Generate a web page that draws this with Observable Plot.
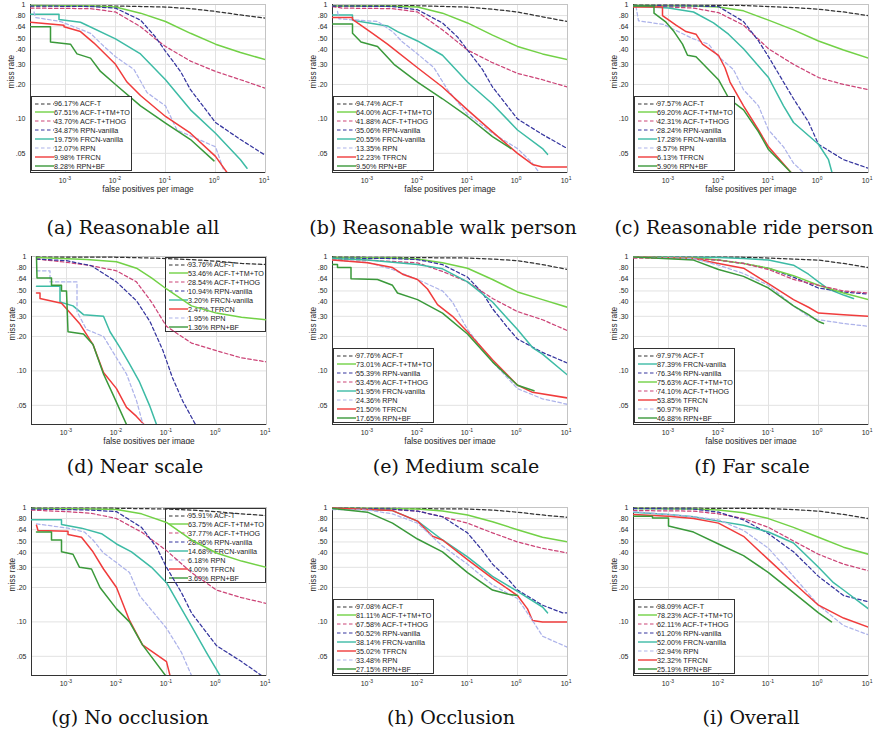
<!DOCTYPE html>
<html><head><meta charset="utf-8">
<script src="https://cdn.jsdelivr.net/npm/d3@7"></script>
<script src="https://cdn.jsdelivr.net/npm/@observablehq/plot@0.6"></script>
<style>
body{margin:0;background:#fff}
#fig{position:relative;width:894px;height:740px;overflow:hidden;background:#fff}
.pan{position:absolute;overflow:hidden}
.pan svg{position:absolute;left:0;top:0}
.cap{position:absolute;font-family:"DejaVu Serif",serif;font-size:19px;white-space:nowrap;transform:translateX(-50%);color:#111;line-height:20px}
.leg{position:absolute;box-sizing:border-box;width:101px;height:75px;background:#fff;border:1px solid #333;font-family:"Liberation Sans",Arial,sans-serif;font-size:7.2px;color:#222}
.leg .row{position:absolute;left:0;height:9px;line-height:9px;white-space:nowrap}
.leg svg{position:absolute;left:2px;top:1.5px}
.leg span{position:absolute;left:22px;top:0}
</style></head>
<body><div id="fig"></div>
<script>
// ---------- data (x = log10 false positives per image, y = miss rate) ----------
const methods = ["ACF-T","ACF-T+TM+TO","ACF-T+THOG","RPN-vanilla","FRCN-vanilla","RPN","TFRCN","RPN+BF"];
const methodColors = ["#333333","#72d146","#cc4477","#35359e","#3dbba5","#adb3ea","#f03c3c","#3a993a"];
const methodDashed = [true,false,true,true,false,true,false,false];

const xTicks = [1e-3,1e-2,1e-1,1,10];
const xTickExps = ["-3","-2","-1","0","1"];
const yTicks = [0.05,0.1,0.2,0.3,0.4,0.5,0.64,0.8,1];
const yTickLabels = [".05",".10",".20",".30",".40",".50",".64",".80","1"];

const reasonableAll = [
 {m:"ACF-T",mr:"96.17%",pts:[[-3.7,.98],[-2,.97],[-1,.95],[-0.5,.92],[0,.87],[0.5,.81],[1,.76]]},
 {m:"ACF-T+TM+TO",mr:"67.51%",pts:[[-3.7,.98],[-2.5,.97],[-2,.95],[-1.5,.84],[-1,.71],[-0.5,.56],[0,.45],[0.5,.38],[1,.33]]},
 {m:"ACF-T+THOG",mr:"43.70%",pts:[[-3.7,.93],[-2.5,.92],[-2,.86],[-1.5,.64],[-1.2,.50],[-1,.43],[-0.5,.32],[0,.26],[0.5,.22],[1,.185]]},
 {m:"RPN-vanilla",mr:"34.87%",pts:[[-3.7,.97],[-2.5,.96],[-2,.93],[-1.5,.73],[-1.2,.52],[-1,.39],[-0.7,.26],[-0.5,.18],[0,.093],[0.5,.066],[1,.048]]},
 {m:"FRCN-vanilla",mr:"19.75%",pts:[[-3.7,.82],[-3.13,.82],[-3.13,.74],[-2.7,.70],[-2,.50],[-1.5,.37],[-1,.22],[-0.5,.12],[0,.075],[0.5,.044],[0.63,.037]]},
 {m:"RPN",mr:"12.07%",pts:[[-3.63,.86],[-3.6,.77],[-3.1,.71],[-2.5,.56],[-2.23,.43],[-2,.35],[-1.63,.27],[-1.37,.17],[-1,.13],[-0.77,.08],[0,.057],[0.17,.035]]},
 {m:"TFRCN",mr:"9.98%",pts:[[-3.7,.70],[-3.03,.66],[-3.03,.64],[-2.7,.58],[-2.43,.46],[-2,.30],[-1.77,.21],[-1.5,.16],[-1,.105],[-0.5,.075],[0,.047],[0.23,.034]]},
 {m:"RPN+BF",mr:"8.28%",pts:[[-3.7,.64],[-3.3,.64],[-3.3,.47],[-2.9,.45],[-2.77,.37],[-2.5,.34],[-2.3,.26],[-2,.20],[-1.5,.13],[-1,.092],[-0.5,.066],[-0.03,.043]]}
];
const walkPerson = [
 {m:"ACF-T",mr:"94.74%",pts:[[-3.7,.98],[-2,.975],[-1,.95],[-0.5,.91],[0,.86],[0.5,.78],[1,.71]]},
 {m:"ACF-T+TM+TO",mr:"64.00%",pts:[[-3.7,.97],[-2.5,.965],[-2,.95],[-1.5,.84],[-1,.69],[-0.5,.54],[0,.43],[0.5,.37],[1,.33]]},
 {m:"ACF-T+THOG",mr:"41.88%",pts:[[-3.7,.96],[-3.5,.93],[-2.5,.92],[-2,.86],[-1.5,.60],[-1,.40],[-0.5,.31],[0,.25],[0.5,.22],[1,.19]]},
 {m:"RPN-vanilla",mr:"35.06%",pts:[[-3.7,.97],[-2.5,.96],[-2,.90],[-1.5,.69],[-1.2,.52],[-1,.40],[-0.7,.27],[-0.5,.19],[0,.10],[0.5,.073],[1,.055]]},
 {m:"FRCN-vanilla",mr:"20.55%",pts:[[-3.7,.81],[-3.3,.81],[-3.3,.73],[-2.6,.65],[-2.4,.58],[-2,.48],[-1.5,.36],[-1,.21],[-0.5,.135],[0,.08],[0.5,.055],[0.6,.049]]},
 {m:"RPN",mr:"13.35%",pts:[[-3.6,.87],[-3.57,.75],[-2.8,.71],[-2.5,.58],[-2.3,.47],[-2,.37],[-1.67,.28],[-1.4,.18],[-1,.11],[-0.5,.075],[0,.055],[0.3,.041],[0.43,.034]]},
 {m:"TFRCN",mr:"12.23%",pts:[[-3.7,.77],[-3.3,.77],[-3.3,.74],[-2.9,.56],[-2.6,.45],[-2,.28],[-1.5,.19],[-1,.12],[-0.5,.077],[0,.05],[0.3,.040],[0.5,.038],[1,.038]]},
 {m:"RPN+BF",mr:"9.50%",pts:[[-3.7,.675],[-3.3,.675],[-3.3,.56],[-3.13,.47],[-2.8,.43],[-2.47,.30],[-2,.21],[-1.5,.15],[-1,.105],[-0.5,.07],[-0.13,.055]]}
];
const ridePerson = [
 {m:"ACF-T",mr:"97.57%",pts:[[-3.7,.99],[-1.5,.98],[-1,.96],[-0.5,.94],[0,.91],[0.5,.86],[1,.80]]},
 {m:"ACF-T+TM+TO",mr:"69.20%",pts:[[-3.7,.98],[-2.5,.97],[-2,.95],[-1.5,.88],[-1,.73],[-0.5,.60],[0,.48],[0.5,.40],[1,.34]]},
 {m:"ACF-T+THOG",mr:"42.31%",pts:[[-3.7,.97],[-3,.95],[-2.5,.93],[-2,.85],[-1.5,.66],[-1,.41],[-0.5,.30],[0,.23],[0.5,.20],[1,.18]]},
 {m:"RPN-vanilla",mr:"28.24%",pts:[[-3.7,.98],[-2.5,.97],[-2,.96],[-1.5,.71],[-1.2,.48],[-1,.35],[-0.7,.21],[-0.5,.15],[-0.2,.094],[0,.06],[0.5,.044],[1,.037]]},
 {m:"FRCN-vanilla",mr:"17.28%",pts:[[-3.7,.97],[-3,.93],[-2.5,.86],[-2.1,.69],[-1.8,.55],[-1.5,.41],[-1,.23],[-0.7,.13],[-0.5,.093],[0,.06],[0.2,.044],[0.27,.034]]},
 {m:"RPN",mr:"8.57%",pts:[[-3.65,.96],[-3.6,.72],[-3.1,.67],[-2.5,.50],[-2.2,.45],[-2,.35],[-1.7,.27],[-1.5,.18],[-1.2,.13],[-1,.08],[-0.7,.057],[-0.5,.041],[-0.3,.034]]},
 {m:"TFRCN",mr:"6.13%",pts:[[-3.7,.95],[-3.12,.95],[-3.12,.80],[-2.85,.66],[-2.65,.58],[-2.45,.55],[-2.32,.45],[-2,.36],[-1.87,.28],[-1.77,.21],[-1.5,.13],[-1.2,.08],[-1,.057],[-0.55,.034]]},
 {m:"RPN+BF",mr:"5.90%",pts:[[-3.7,.97],[-3.29,.97],[-3.29,.84],[-3.05,.70],[-2.89,.58],[-2.72,.45],[-2.62,.36],[-2.45,.35],[-2,.22],[-1.79,.15],[-1.5,.12],[-1.2,.077],[-1,.054],[-0.55,.034]]}
];
const nearScale = [
 {m:"ACF-T",mr:"93.76%",pts:[[-3.6,.99],[-2,.985],[-1.5,.975],[-1,.96],[-0.5,.94],[0,.91],[0.5,.87],[1,.85]]},
 {m:"ACF-T+TM+TO",mr:"53.46%",pts:[[-3.6,.98],[-2.6,.94],[-2,.90],[-1.6,.79],[-1.3,.65],[-1,.52],[-0.5,.37],[0,.32],[0.5,.295],[1,.28]]},
 {m:"ACF-T+THOG",mr:"28.54%",pts:[[-3.6,.95],[-3,.89],[-2.5,.83],[-2,.75],[-1.6,.60],[-1.3,.40],[-1,.245],[-0.5,.175],[0,.15],[0.5,.13],[1,.12]]},
 {m:"RPN-vanilla",mr:"10.94%",pts:[[-3.6,.95],[-3,.92],[-2.5,.83],[-2,.60],[-1.6,.41],[-1.33,.27],[-1.07,.15],[-0.88,.087],[-0.68,.055],[-0.42,.034]]},
 {m:"FRCN-vanilla",mr:"3.20%",pts:[[-3.6,.55],[-3.13,.55],[-3.13,.40],[-2.87,.37],[-2.66,.31],[-2.26,.30],[-2.13,.22],[-1.93,.16],[-1.74,.115],[-1.54,.08],[-1.34,.05],[-1.2,.034]]},
 {m:"TFRCN",mr:"2.47%",pts:[[-3.6,.48],[-3.53,.48],[-3.53,.43],[-3.1,.39],[-3,.35],[-2.74,.26],[-2.47,.17],[-2.26,.097],[-2,.07],[-1.8,.048],[-1.6,.04],[-1.45,.034]]},
 {m:"RPN",mr:"1.95%",pts:[[-3.6,.75],[-3.33,.75],[-3.33,.60],[-2.79,.60],[-2.79,.33],[-2.6,.23],[-2.26,.20],[-2,.13],[-1.8,.094],[-1.6,.055],[-1.47,.034]]},
 {m:"RPN+BF",mr:"1.36%",pts:[[-3.6,.98],[-3.59,.65],[-3.3,.65],[-3.3,.56],[-3.1,.56],[-3.1,.50],[-3.0,.50],[-2.97,.22],[-2.66,.21],[-2.47,.17],[-2.26,.094],[-2.07,.062],[-1.8,.034]]}
];
const mediumScale = [
 {m:"ACF-T",mr:"97.76%",pts:[[-3.7,.99],[-1,.97],[-0.5,.95],[0,.92],[0.5,.85],[1,.77]]},
 {m:"ACF-T+TM+TO",mr:"73.01%",pts:[[-3.7,.98],[-2.5,.97],[-2,.95],[-1.5,.88],[-1,.79],[-0.5,.63],[0,.49],[0.5,.42],[1,.36]]},
 {m:"RPN-vanilla",mr:"55.39%",pts:[[-3.7,.97],[-2.5,.96],[-2,.94],[-1.5,.85],[-1,.66],[-0.7,.48],[-0.5,.35],[-0.2,.24],[0,.19],[0.5,.145],[1,.117]]},
 {m:"ACF-T+THOG",mr:"53.45%",pts:[[-3.7,.95],[-3,.93],[-2,.88],[-1.5,.74],[-1,.60],[-0.5,.43],[0,.33],[0.5,.28],[1,.225]]},
 {m:"FRCN-vanilla",mr:"51.95%",pts:[[-3.7,.96],[-3,.93],[-2,.85],[-1.5,.78],[-1,.60],[-0.5,.40],[0,.23],[0.3,.16],[0.5,.14],[1,.092]]},
 {m:"RPN",mr:"24.36%",pts:[[-3.7,.93],[-3,.89],[-2.5,.77],[-2,.63],[-1.5,.50],[-1.3,.40],[-1,.23],[-0.5,.12],[0,.07],[0.5,.057],[1,.051]]},
 {m:"TFRCN",mr:"21.50%",pts:[[-3.7,.93],[-3,.88],[-2.5,.80],[-2.3,.70],[-2,.63],[-1.8,.52],[-1.6,.38],[-1.3,.30],[-1,.22],[-0.5,.125],[0,.075],[0.3,.065],[1,.058]]},
 {m:"RPN+BF",mr:"17.65%",pts:[[-3.7,.85],[-3.6,.85],[-3.6,.80],[-3.33,.80],[-3.33,.64],[-2.8,.63],[-2.5,.56],[-2.4,.48],[-2,.42],[-1.5,.32],[-1,.21],[-0.5,.12],[0,.075],[0.33,.067]]}
];
const farScale = [
 {m:"ACF-T",mr:"97.97%",pts:[[-3.7,.99],[-1.5,.985],[-1,.97],[-0.5,.95],[0,.93],[0.5,.87],[1,.80]]},
 {m:"FRCN-vanilla",mr:"87.39%",pts:[[-3.7,.99],[-2,.98],[-1.5,.96],[-1,.93],[-0.5,.84],[-0.2,.70],[0,.60],[0.2,.52],[0.5,.46],[0.7,.43]]},
 {m:"RPN-vanilla",mr:"76.34%",pts:[[-3.7,.99],[-2.5,.97],[-2,.93],[-1.5,.87],[-1,.79],[-0.5,.66],[0,.53],[0.5,.49],[1,.47]]},
 {m:"ACF-T+TM+TO",mr:"75.63%",pts:[[-3.7,.99],[-2.5,.97],[-2,.93],[-1.5,.87],[-1,.79],[-0.5,.68],[0,.56],[0.5,.48],[1,.42]]},
 {m:"ACF-T+THOG",mr:"74.10%",pts:[[-3.7,.97],[-2.5,.96],[-2,.93],[-1.5,.87],[-1,.77],[-0.5,.63],[0,.56],[0.5,.50],[1,.48]]},
 {m:"TFRCN",mr:"53.85%",pts:[[-3.7,.99],[-2.5,.96],[-2,.87],[-1.5,.79],[-1,.58],[-0.5,.42],[-0.2,.36],[0,.32],[0.5,.31],[1,.30]]},
 {m:"RPN",mr:"50.97%",pts:[[-3.7,.99],[-2.5,.96],[-2,.84],[-1.5,.71],[-1,.56],[-0.5,.37],[-0.2,.30],[0,.28],[0.5,.26],[1,.245]]},
 {m:"RPN+BF",mr:"46.88%",pts:[[-3.7,.99],[-2.5,.93],[-2,.77],[-1.5,.67],[-1,.53],[-0.5,.37],[-0.2,.31],[0,.27],[0.1,.26]]}
];
const noOcclusion = [
 {m:"ACF-T",mr:"95.91%",pts:[[-3.7,.99],[-2,.985],[-1,.97],[-0.5,.95],[0,.92],[0.5,.88],[1,.85]]},
 {m:"ACF-T+TM+TO",mr:"63.75%",pts:[[-3.7,.98],[-2.5,.97],[-2,.96],[-1.5,.88],[-1,.74],[-0.5,.52],[0,.40],[0.5,.34],[1,.30]]},
 {m:"ACF-T+THOG",mr:"37.77%",pts:[[-3.7,.95],[-3,.92],[-2.5,.89],[-2,.80],[-1.5,.61],[-1,.42],[-0.5,.27],[0,.19],[0.5,.163],[1,.145]]},
 {m:"RPN-vanilla",mr:"28.96%",pts:[[-3.7,.97],[-2.5,.95],[-2,.92],[-1.5,.67],[-1.2,.45],[-1,.30],[-0.7,.18],[-0.5,.12],[0,.062],[0.5,.045],[0.9,.034]]},
 {m:"FRCN-vanilla",mr:"14.68%",pts:[[-3.7,.78],[-3.1,.78],[-3.1,.71],[-2.7,.66],[-2.3,.59],[-2,.48],[-1.7,.41],[-1.3,.30],[-1,.22],[-0.7,.13],[-0.5,.092],[-0.2,.054],[0.07,.034]]},
 {m:"RPN",mr:"6.18%",pts:[[-3.6,.72],[-2.97,.66],[-2.64,.61],[-2.47,.52],[-2.26,.40],[-2,.33],[-1.74,.27],[-1.54,.17],[-1,.088],[-0.7,.054],[-0.5,.034]]},
 {m:"TFRCN",mr:"4.00%",pts:[[-3.6,.70],[-3.57,.63],[-2.97,.62],[-2.97,.58],[-2.7,.55],[-2.47,.41],[-2.26,.29],[-2,.20],[-1.74,.103],[-1.48,.063],[-1,.045],[-0.93,.034]]},
 {m:"RPN+BF",mr:"3.69%",pts:[[-3.6,.61],[-3.3,.61],[-3.3,.52],[-3.1,.52],[-3.1,.41],[-2.87,.39],[-2.74,.30],[-2.5,.29],[-2.33,.20],[-2,.13],[-1.74,.10],[-1.48,.063],[-1.02,.034]]}
];
const occlusion = [
 {m:"ACF-T",mr:"97.08%",pts:[[-3.7,.99],[-1,.97],[-0.5,.95],[0,.91],[0.5,.86],[1,.82]]},
 {m:"ACF-T+TM+TO",mr:"81.11%",pts:[[-3.7,.99],[-2,.97],[-1.5,.93],[-1,.86],[-0.5,.75],[0,.64],[0.5,.55],[1,.50]]},
 {m:"ACF-T+THOG",mr:"67.58%",pts:[[-3.7,.97],[-2.5,.96],[-2,.93],[-1.5,.83],[-1,.73],[-0.5,.60],[0,.50],[0.5,.44],[1,.40]]},
 {m:"RPN-vanilla",mr:"50.52%",pts:[[-3.7,.99],[-2.5,.97],[-2,.93],[-1.5,.83],[-1,.60],[-0.7,.42],[-0.5,.32],[-0.2,.24],[0,.19],[0.5,.14],[0.9,.12],[1,.12]]},
 {m:"FRCN-vanilla",mr:"38.14%",pts:[[-3.7,.99],[-2.5,.94],[-2,.76],[-1.5,.52],[-1,.37],[-0.5,.25],[0,.185],[0.5,.135],[0.6,.12]]},
 {m:"TFRCN",mr:"35.02%",pts:[[-3.7,.99],[-2.5,.94],[-2,.76],[-1.7,.56],[-1.5,.52],[-1,.35],[-0.5,.24],[0,.17],[0.2,.13],[0.3,.103],[0.5,.10],[1,.10]]},
 {m:"RPN",mr:"33.48%",pts:[[-3.7,.96],[-3,.95],[-2.5,.88],[-2,.73],[-1.5,.46],[-1,.32],[-0.5,.21],[0,.16],[0.3,.103],[0.5,.075],[1,.06]]},
 {m:"RPN+BF",mr:"27.15%",pts:[[-3.7,.98],[-3,.91],[-2.5,.73],[-2,.53],[-1.5,.41],[-1,.27],[-0.5,.19],[-0.2,.175],[0,.17]]}
];
const overall = [
 {m:"ACF-T",mr:"98.09%",pts:[[-3.7,.99],[-1,.98],[-0.5,.96],[0,.93],[0.5,.87],[1,.80]]},
 {m:"ACF-T+TM+TO",mr:"78.23%",pts:[[-3.7,.98],[-2.5,.97],[-2,.95],[-1.5,.90],[-1,.80],[-0.5,.67],[0,.55],[0.5,.45],[1,.39]]},
 {m:"ACF-T+THOG",mr:"62.11%",pts:[[-3.7,.94],[-2.5,.93],[-2,.88],[-1.5,.80],[-1,.67],[-0.5,.51],[0,.39],[0.5,.32],[1,.28]]},
 {m:"RPN-vanilla",mr:"61.20%",pts:[[-3.7,.98],[-2.5,.97],[-2,.91],[-1.5,.78],[-1,.59],[-0.5,.41],[0,.25],[0.5,.17],[1,.15]]},
 {m:"FRCN-vanilla",mr:"52.00%",pts:[[-3.7,.91],[-3,.87],[-2.5,.83],[-2,.76],[-1.5,.70],[-1,.61],[-0.5,.49],[0,.30],[0.3,.22],[0.5,.19],[1,.13]]},
 {m:"RPN",mr:"32.94%",pts:[[-3.7,.92],[-3,.87],[-2.5,.83],[-2,.78],[-1.5,.63],[-1,.44],[-0.5,.25],[0,.14],[0.5,.093],[1,.077]]},
 {m:"TFRCN",mr:"32.32%",pts:[[-3.7,.87],[-3,.84],[-2.5,.80],[-2,.73],[-1.5,.56],[-1,.35],[-0.5,.22],[0,.14],[0.5,.108],[1,.09]]},
 {m:"RPN+BF",mr:"25.19%",pts:[[-3.7,.84],[-3.32,.84],[-3.32,.81],[-3,.81],[-3,.69],[-2.5,.61],[-2,.48],[-1.5,.38],[-1,.27],[-0.5,.18],[0,.12],[0.26,.10]]}
];

// ---------- layout ----------
const panels = [
 {series:reasonableAll, caption:"(a) Reasonable all",         fx:30,  fy:4,   leg:"bl", xlabel:true,  clipH:null, cx:133, cy:217},
 {series:walkPerson,    caption:"(b) Reasonable walk person", fx:332, fy:4,   leg:"bl", xlabel:true,  clipH:null, cx:443, cy:217},
 {series:ridePerson,    caption:"(c) Reasonable ride person", fx:633, fy:4,   leg:"bl", xlabel:true,  clipH:null, cx:744, cy:217},
 {series:nearScale,     caption:"(d) Near scale",             fx:31,  fy:256, leg:"tr", xlabel:true,  clipH:444,  cx:135, cy:456},
 {series:mediumScale,   caption:"(e) Medium scale",           fx:332, fy:256, leg:"bl", xlabel:true,  clipH:444,  cx:456, cy:456},
 {series:farScale,      caption:"(f) Far scale",              fx:633, fy:256, leg:"bl", xlabel:true,  clipH:444,  cx:752, cy:456},
 {series:noOcclusion,   caption:"(g) No occlusion",           fx:31,  fy:507, leg:"tr", xlabel:false, clipH:null, cx:130, cy:707},
 {series:occlusion,     caption:"(h) Occlusion",              fx:332, fy:507, leg:"bl", xlabel:false, clipH:null, cx:451, cy:707},
 {series:overall,       caption:"(i) Overall",                fx:633, fy:507, leg:"bl", xlabel:false, clipH:null, cx:751, cy:707}
];
const FW = 235, FH = 168, ML = 34, MR = 6, MT = 6, MB = 28;
const xDomain = [10 ** -3.7, 10], yDomain = [0.034, 1];
const TXT = "#262626", GRID = "#e2e2e2";

function styleOf(m) {
  const i = methods.indexOf(m);
  return {color: methodColors[i], dashed: methodDashed[i]};
}
function lineMarks(series) {
  return series.map(s => {
    const st = styleOf(s.m);
    return Plot.line(s.pts, {
      x: p => 10 ** p[0], y: p => p[1], stroke: st.color,
      strokeWidth: st.dashed ? 1.25 : 1.5,
      strokeDasharray: st.dashed ? "3.5,2.5" : null, clip: true
    });
  });
}
const base = {width: FW + ML + MR, height: FH + MT + MB, marginLeft: ML, marginRight: MR, marginTop: MT, marginBottom: MB,
  x: {type: "log", domain: xDomain, axis: null},
  y: {type: "log", domain: yDomain, axis: null},
  style: {background: "transparent", fontFamily: "'Liberation Sans', Arial, sans-serif", fontSize: "7px", color: TXT}};

const fig = document.getElementById("fig");
panels.forEach(p => {
  const wrap = document.createElement("div");
  wrap.className = "pan";
  const L = p.fx - ML, T = p.fy - MT;
  wrap.style.left = L + "px"; wrap.style.top = T + "px";
  wrap.style.width = base.width + "px";
  wrap.style.height = (p.clipH ? p.clipH - T : base.height) + "px";
  const over = p.leg === "tr";
  const marks = [
    Plot.ruleX(xTicks, {x: d => d, stroke: GRID}),
    Plot.ruleY(yTicks, {y: d => d, stroke: GRID}),
    Plot.frame({stroke: "#c4c4c4"}),
    Plot.ruleX([xDomain[0]], {stroke: "#333"}),
    Plot.ruleY([yDomain[0]], {stroke: "#333"}),
    Plot.text(xTicks, {x: d => d, text: () => "10", frameAnchor: "bottom", dy: 10, dx: 1, textAnchor: "end", fontSize: 7, fill: TXT}),
    Plot.text(xTicks, {x: d => d, text: (d, i) => xTickExps[i], frameAnchor: "bottom", dy: 7, dx: 1.2, textAnchor: "start", fontSize: 5, fill: TXT}),
    Plot.text(yTicks, {y: d => d, text: (d, i) => yTickLabels[i], frameAnchor: "left", dx: -5, textAnchor: "end", fontSize: 7, fill: TXT}),
    Plot.text(["miss rate"], {text: d => d, frameAnchor: "left", dx: -19, rotate: -90, fontSize: 8.3, fill: TXT})
  ];
  if (p.xlabel) marks.push(Plot.text(["false positives per image"], {text: d => d, frameAnchor: "bottom", dy: 19, fontSize: 8.3, fill: TXT}));
  if (!over) marks.push(...lineMarks(p.series));
  wrap.appendChild(Plot.plot({...base, marks}));

  // legend
  const lg = document.createElement("div");
  lg.className = "leg";
  if (p.leg === "bl") { lg.style.left = (ML + 1) + "px"; lg.style.top = (MT + FH - 76) + "px"; }
  else { lg.style.left = (ML + FW - 101) + "px"; lg.style.top = (MT + 1) + "px"; }
  p.series.forEach((s, i) => {
    const st = styleOf(s.m);
    const row = document.createElement("div");
    row.className = "row";
    row.style.top = (2 + i * 8.95) + "px";
    row.innerHTML = `<svg width="22" height="6"><line x1="1" y1="3" x2="20" y2="3" stroke="${st.color}" stroke-width="${st.dashed ? 1.2 : 1.4}" ${st.dashed ? 'stroke-dasharray="3.5,2.5"' : ''}/></svg><span>${s.mr} ${s.m}</span>`;
    lg.appendChild(row);
  });
  wrap.appendChild(lg);

  if (over) wrap.appendChild(Plot.plot({...base, marks: lineMarks(p.series)}));
  fig.appendChild(wrap);

  const cap = document.createElement("div");
  cap.className = "cap";
  cap.style.left = p.cx + "px"; cap.style.top = p.cy + "px";
  cap.textContent = p.caption;
  fig.appendChild(cap);
});
</script></body></html>
